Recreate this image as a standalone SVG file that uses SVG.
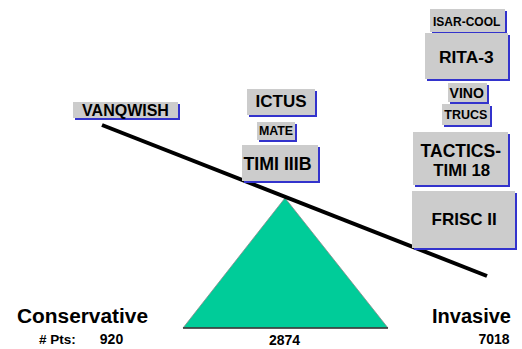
<svg xmlns="http://www.w3.org/2000/svg" width="522" height="349" viewBox="0 0 522 349">
<style>
.sh{fill:#3333cc}
.bx{fill:#cccccc}
text{font-family:"Liberation Sans",Arial,sans-serif;font-weight:bold;fill:#000;text-anchor:middle}
text.st{text-anchor:start}
</style>
<rect width="522" height="349" fill="#fff"/>
<g id="fulcrum">
<polygon points="285,198 183,328 388,328" fill="#00cc99" stroke="#888" stroke-width="0.8"/>
<line x1="183" y1="328" x2="388" y2="328" stroke="#333" stroke-width="1.5"/>
</g>
<g id="connectors">
<line x1="102" y1="125" x2="487" y2="276" stroke="#000" stroke-width="4"/>
</g>
<g id="vanqwish"><rect class="sh" x="75" y="104" width="105" height="16"/><rect class="bx" x="73" y="102" width="105" height="16"/><text x="125.5" y="116" font-size="16">VANQWISH</text></g>
<g id="ictus"><rect class="sh" x="249" y="91" width="68" height="26"/><rect class="bx" x="247" y="89" width="68" height="26"/><text x="281" y="107" font-size="17">ICTUS</text></g>
<g id="mate"><rect class="sh" x="259" y="124" width="38" height="18"/><rect class="bx" x="257" y="122" width="38" height="18"/><text x="276" y="135" font-size="12.4">MATE</text></g>
<g id="timi3b"><rect class="sh" x="244" y="147" width="76" height="36"/><rect class="bx" x="242" y="145" width="76" height="36"/><text x="277.5" y="170" font-size="17.8">TIMI IIIB</text></g>
<g id="isarcool"><rect class="sh" x="432" y="11" width="75" height="23"/><rect class="bx" x="430" y="9" width="75" height="23"/><text x="466.7" y="26" font-size="12">ISAR-COOL</text></g>
<g id="rita3"><rect class="sh" x="427" y="35" width="83" height="46"/><rect class="bx" x="425" y="33" width="83" height="46"/><text x="466.3" y="63" font-size="17.4">RITA-3</text></g>
<g id="vino"><rect class="sh" x="450" y="85" width="39" height="19"/><rect class="bx" x="448" y="83" width="39" height="19"/><text x="466.7" y="98" font-size="14">VINO</text></g>
<g id="trucs"><rect class="sh" x="444" y="106" width="48" height="21"/><rect class="bx" x="442" y="104" width="48" height="21"/><text x="465.8" y="119" font-size="12.5">TRUCS</text></g>
<g id="tactics"><rect class="sh" x="415" y="134" width="95" height="53"/><rect class="bx" x="413" y="132" width="95" height="53"/><text x="460.8" y="157" font-size="17.5">TACTICS-</text><text x="461.7" y="176" font-size="16.8">TIMI 18</text></g>
<g id="frisc"><rect class="sh" x="414" y="193" width="103" height="57"/><rect class="bx" x="412" y="191" width="103" height="57"/><text x="464.2" y="225" font-size="17">FRISC II</text></g>
<g id="labels">
<text class="st" x="17" y="323" font-size="20" textLength="131" lengthAdjust="spacingAndGlyphs">Conservative</text>
<text class="st" x="432" y="323" font-size="20">Invasive</text>
<text class="st" x="39" y="344" font-size="13.5"># Pts:</text>
<text x="111.5" y="344" font-size="14">920</text>
<text x="284.5" y="345" font-size="14">2874</text>
<text x="494" y="344" font-size="14">7018</text>
</g>
</svg>
